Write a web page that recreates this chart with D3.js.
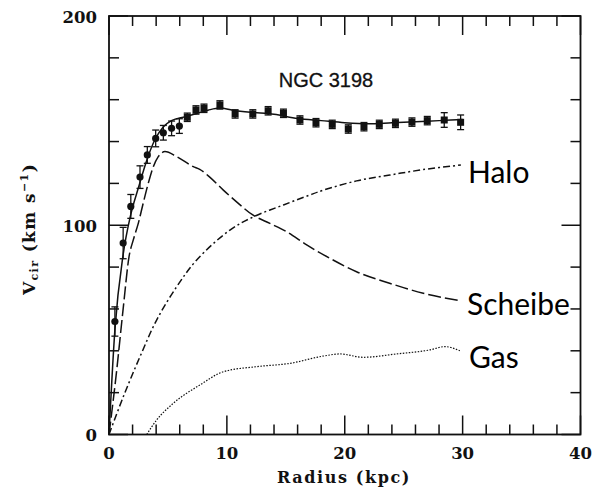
<!DOCTYPE html>
<html>
<head>
<meta charset="utf-8">
<script src="https://cdn.jsdelivr.net/npm/d3@7"></script>
<style>
  html, body { margin: 0; padding: 0; background: #fff; }
  svg { display: block; }
</style>
</head>
<body>
<svg id="chart" width="592" height="488"></svg>
<script>
// Observed rotation curve of NGC 3198: radius (kpc), velocity (km/s), error
const obsRadius = [0.5, 1.2, 1.85, 2.63, 3.25, 3.96, 4.61, 5.31, 5.97, 6.64, 7.38, 8.06, 9.41, 10.7, 12.2, 13.5, 14.8, 16.2, 17.56, 18.94, 20.3, 21.63, 22.93, 24.3, 25.7, 27.0, 28.44, 29.83];
const obsVel    = [54, 91.5, 109, 123, 133.6, 141.5, 144.2, 146.3, 147.4, 151.6, 155.1, 155.9, 157.5, 153.2, 153.2, 154.7, 153.5, 150.3, 149.0, 148.2, 146.0, 147.1, 148.2, 148.7, 149.3, 150.0, 150.3, 149.2];
const obsErr    = [7, 7.5, 5.7, 5.4, 4, 4, 3.5, 3.5, 3.5, 2, 2, 2, 2, 2, 2, 2, 2, 2, 2, 2, 2, 2, 2, 2, 2, 2, 3.5, 3.5];

// Model components (radius kpc, velocity km/s)
const totalR = [0, 0.5, 1.2, 1.8, 2.5, 3.2, 3.9, 4.6, 5.3, 6.2, 7.2, 8.4, 9.4, 10.5, 12, 14, 16, 18, 20, 22, 24, 26, 28, 30];
const totalV = [0, 50, 86, 104, 118, 131, 141, 147, 150, 151.5, 153, 155, 156, 155, 154, 153, 151, 150, 149, 148.5, 149, 149.5, 150, 150.5];

const diskR = [0, 0.6, 1.2, 1.7, 2.06, 2.49, 2.9, 3.33, 3.76, 4.18, 4.75, 5.74, 7.15, 7.7, 8.57, 9.7, 10.8, 12.2, 13.65, 15.07, 16.77, 18.74, 21.0, 23.8, 26.66, 29.77];
const diskV = [0, 28, 60, 85, 93, 101, 110.5, 120, 128, 132.8, 135.2, 132.8, 128, 126.7, 122.9, 116.8, 111.3, 104.9, 100.9, 96.9, 90.6, 84.2, 77.8, 72.3, 67.5, 64];

const haloR = [0, 1.21, 2.63, 4.04, 5.74, 7.44, 10.26, 12.4, 14.8, 17.05, 18.2, 21.0, 23.83, 26.66, 29.85];
const haloV = [0, 18, 37.2, 54.7, 70.6, 83.4, 97.7, 104.4, 109.7, 114.5, 116.8, 121.2, 124, 126.6, 128.8];

const gasR = [3.2, 4.04, 5.45, 7.72, 9.7, 12.5, 15.35, 18.2, 19.6, 21.57, 24.4, 27.2, 28.5, 29.77];
const gasV = [0, 6.9, 14.9, 23.7, 30, 32.4, 34, 37.5, 38.5, 36.9, 38.5, 40.4, 42, 40];

const xMajorTicks = [0, 10, 20, 30, 40];
const yMajorTicks = [0, 100, 200];

const svg = d3.select("#chart");
const plotLeft = 109, plotRight = 580.5, plotTop = 16, plotBottom = 434.5;

const x = d3.scaleLinear().domain([0, 40]).range([plotLeft, plotRight]);
const y = d3.scaleLinear().domain([0, 200]).range([plotBottom, plotTop]);

const serif = "'DejaVu Serif', serif";

// Frame
svg.append("rect")
  .attr("x", plotLeft).attr("y", plotTop)
  .attr("width", plotRight - plotLeft).attr("height", plotBottom - plotTop)
  .attr("fill", "none").attr("stroke", "#111").attr("stroke-width", 1.8);

// Inward ticks on all four sides
const xMinor = d3.range(0, 41, 2);
const yMinor = d3.range(0, 201, 20);
const tickLen = v => (v % 10 === 0 ? 19 : 10);
const tickLenY = v => (v % 100 === 0 ? 19 : 10);

const ticks = svg.append("g").attr("stroke", "#111").attr("stroke-width", 1.5);
xMinor.forEach(v => {
  ticks.append("line").attr("x1", x(v)).attr("x2", x(v)).attr("y1", plotBottom).attr("y2", plotBottom - tickLen(v));
  ticks.append("line").attr("x1", x(v)).attr("x2", x(v)).attr("y1", plotTop).attr("y2", plotTop + tickLen(v));
});
yMinor.forEach(v => {
  ticks.append("line").attr("x1", plotLeft).attr("x2", plotLeft + tickLenY(v)).attr("y1", y(v)).attr("y2", y(v));
  ticks.append("line").attr("x1", plotRight).attr("x2", plotRight - tickLenY(v)).attr("y1", y(v)).attr("y2", y(v));
});

// Tick labels
svg.append("g").selectAll("text").data(xMajorTicks).join("text")
  .attr("x", d => x(d)).attr("y", 459)
  .attr("text-anchor", "middle")
  .attr("font-family", serif).attr("font-weight", "bold").attr("font-size", 16.5)
  .attr("fill", "#111")
  .text(d => d);

svg.append("g").selectAll("text").data(yMajorTicks).join("text")
  .attr("x", 97).attr("y", d => y(d) + 6.5)
  .attr("text-anchor", "end")
  .attr("font-family", serif).attr("font-weight", "bold").attr("font-size", 16.5)
  .attr("fill", "#111")
  .text(d => d);

// Axis titles
svg.append("text")
  .attr("x", 344).attr("y", 483)
  .attr("text-anchor", "middle")
  .attr("font-family", serif).attr("font-weight", "bold").attr("font-size", 16)
  .attr("letter-spacing", 1.6)
  .attr("fill", "#111")
  .text("Radius (kpc)");

const yTitle = svg.append("text")
  .attr("transform", "translate(35,229) rotate(-90)")
  .attr("text-anchor", "middle")
  .attr("font-family", serif).attr("font-weight", "bold").attr("font-size", 17)
  .attr("letter-spacing", 1.4)
  .attr("fill", "#111");
yTitle.append("tspan").text("V");
yTitle.append("tspan").attr("font-size", 11).attr("dy", 3).text("cir");
yTitle.append("tspan").attr("dy", -3).text(" (km s");
yTitle.append("tspan").attr("font-size", 11).attr("dy", -7).text("−1");
yTitle.append("tspan").attr("dy", 7).text(")");

// Title
svg.append("text")
  .attr("x", 326).attr("y", 87)
  .attr("text-anchor", "middle")
  .attr("font-family", "'Liberation Sans', Arial, sans-serif").attr("font-size", 20)
  .attr("fill", "#111")
  .attr("stroke", "#111").attr("stroke-width", 0.3)
  .text("NGC 3198");

// Model curves
const plotLine = (rs, vs, curve) => d3.line()
  .x(i => x(rs[i])).y(i => y(vs[i]))
  .curve(curve)(d3.range(rs.length));

const curves = svg.append("g").attr("fill", "none").attr("stroke", "#111");
curves.append("path").attr("d", plotLine(totalR, totalV, d3.curveMonotoneX)).attr("stroke-width", 1.5);
curves.append("path").attr("d", plotLine(diskR, diskV, d3.curveMonotoneX)).attr("stroke-width", 1.5)
  .attr("stroke-dasharray", "13,4");
curves.append("path").attr("d", plotLine(haloR, haloV, d3.curveCatmullRom)).attr("stroke-width", 1.5)
  .attr("stroke-dasharray", "7,3,2,3");
curves.append("path").attr("d", plotLine(gasR, gasV, d3.curveMonotoneX)).attr("stroke-width", 1.2)
  .attr("stroke-dasharray", "1.5,1.5");

// Observed points with error bars
const pts = svg.append("g").attr("fill", "#111").attr("stroke", "#111");
obsRadius.forEach((r, i) => {
  const cx = x(r), cy = y(obsVel[i]);
  const y1 = y(obsVel[i] + obsErr[i]), y2 = y(obsVel[i] - obsErr[i]);
  pts.append("line").attr("x1", cx).attr("x2", cx).attr("y1", y1).attr("y2", y2).attr("stroke-width", 1.3);
  pts.append("line").attr("x1", cx - 3.5).attr("x2", cx + 3.5).attr("y1", y1).attr("y2", y1).attr("stroke-width", 1.3);
  pts.append("line").attr("x1", cx - 3.5).attr("x2", cx + 3.5).attr("y1", y2).attr("y2", y2).attr("stroke-width", 1.3);
  if (r < 6.3) {
    pts.append("circle").attr("cx", cx).attr("cy", cy).attr("r", 3.6).attr("stroke", "none");
  } else {
    pts.append("rect").attr("x", cx - 3.5).attr("y", cy - 3.5).attr("width", 7).attr("height", 7).attr("stroke", "none");
  }
});

// Component labels
const labelFont = "Lato, 'Open Sans', sans-serif";
[["Halo", 468, 183], ["Scheibe", 467, 315], ["Gas", 469, 368]].forEach(([t, lx, ly]) => {
  svg.append("text").attr("x", lx).attr("y", ly)
    .attr("font-family", labelFont).attr("font-size", 30)
    .attr("fill", "#000").text(t);
});
</script>
</body>
</html>
